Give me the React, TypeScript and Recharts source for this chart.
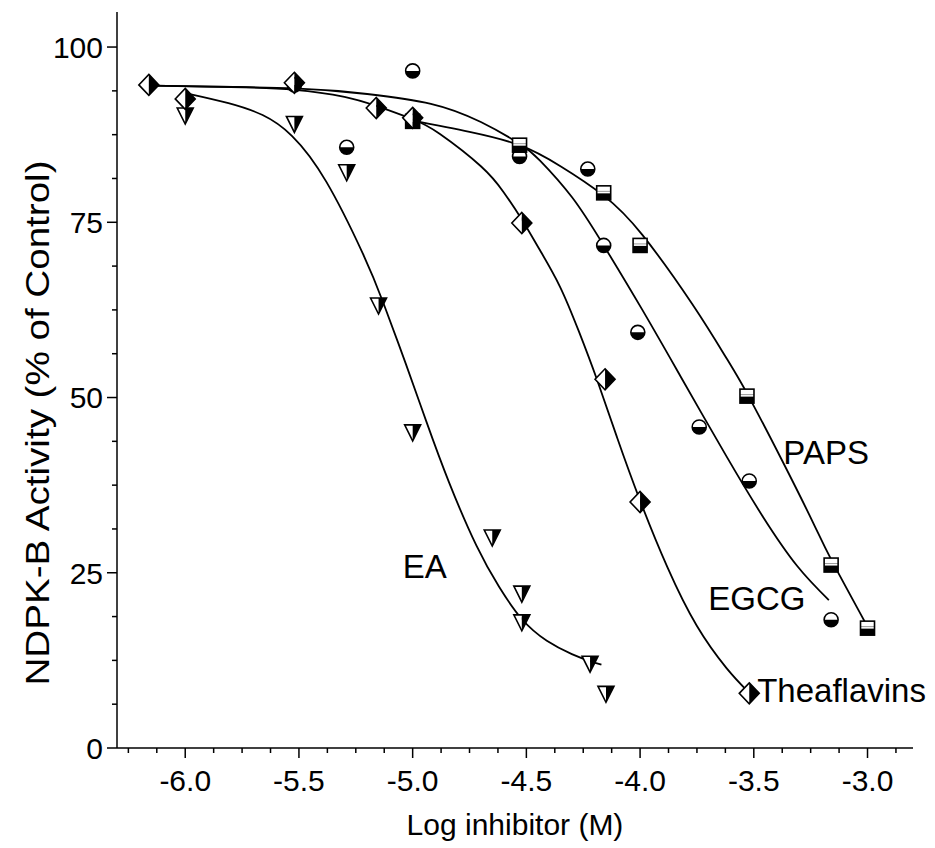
import React from 'react';
import { ComposedChart, Line, Scatter, XAxis, YAxis } from 'recharts';

const FONT = '"Liberation Sans", Arial, Helvetica, sans-serif';

// Axis ticks
const xMajorTicks = [-6.0, -5.5, -5.0, -4.5, -4.0, -3.5, -3.0];
const xMinorTicks = [-6.25, -6.125, -5.875, -5.75, -5.625, -5.375, -5.25, -5.125, -4.875, -4.75, -4.625, -4.375, -4.25, -4.125, -3.875, -3.75, -3.625, -3.375, -3.25, -3.125, -2.875];
const yMajorTicks = [0, 25, 50, 75, 100];
const yMinorTicks = [6.25, 12.5, 18.75, 31.25, 37.5, 43.75, 56.25, 62.5, 68.75, 81.25, 87.5, 93.75];

// Measured points
const theaX = [-6.16, -6.0, -5.52, -5.16, -5.0, -4.52, -4.154, -4.0, -3.52];
const theaY = [94.6, 92.6, 94.9, 91.3, 89.9, 74.9, 52.6, 35.1, 7.8];

const eaX = [-6.0, -5.52, -5.29, -5.15, -5.0, -4.65, -4.52, -4.52, -4.22, -4.15];
const eaY = [90.3, 89.1, 82.2, 63.2, 45.1, 30.1, 22.1, 18.0, 12.1, 7.8];

const egcgX = [-5.52, -5.29, -5.0, -4.53, -4.23, -4.16, -4.01, -3.74, -3.52, -3.16];
const egcgY = [94.6, 85.7, 96.6, 84.4, 82.6, 71.7, 59.3, 45.8, 38.1, 18.3];

const papsX = [-5.0, -4.53, -4.16, -4.0, -3.53, -3.16, -3.0];
const papsY = [89.4, 86.0, 79.2, 71.7, 50.2, 26.1, 17.1];

// Fitted curves
const theaCurveX = [-6.15, -5.8, -5.52, -5.3, -5.16, -5.0, -4.88, -4.7, -4.6, -4.52, -4.44, -4.352, -4.27, -4.19, -4.1, -4.0, -3.88, -3.75, -3.62, -3.53];
const theaCurveY = [94.5, 94.3, 93.9, 92.9, 91.6, 89.7, 87.6, 83.0, 79.3, 75.4, 71.0, 65.8, 59.5, 52.6, 44.2, 35.3, 25.8, 17.4, 11.4, 8.2];

const egcgCurveX = [-6.15, -5.52, -5.2, -4.92, -4.7, -4.53, -4.44, -4.3, -4.16, -3.99, -3.82, -3.62, -3.46, -3.31, -3.17];
const egcgCurveY = [94.5, 94.1, 93.3, 91.9, 89.3, 86.2, 83.8, 78.6, 71.7, 62.5, 52.9, 41.6, 33.0, 26.0, 21.1];

const papsCurveX = [-5.0, -4.75, -4.53, -4.35, -4.16, -3.99, -3.77, -3.62, -3.53, -3.38, -3.24, -3.16, -3.0];
const papsCurveY = [89.5, 87.9, 86.0, 83.0, 78.8, 73.2, 63.3, 55.6, 50.6, 41.3, 32.2, 26.9, 17.3];

const eaCurveX = [-5.98, -5.81, -5.66, -5.53, -5.38, -5.22, -5.13, -5.03, -4.94, -4.84, -4.72, -4.62, -4.52, -4.41, -4.3, -4.22, -4.17];
const eaCurveY = [93.3, 92.0, 90.3, 87.3, 80.8, 70.6, 63.6, 54.8, 46.6, 37.9, 28.9, 23.0, 18.4, 15.3, 13.4, 12.4, 11.9];

// Curve annotations
const labelNames = ['PAPS', 'EGCG', 'EA', 'Theaflavins'];
const labelX = [-3.37, -3.70, -5.044, -3.485];
const labelY = [40.5, 19.7, 24.25, 6.56];

const toPts = (xs: number[], ys: number[]) => xs.map((x, i) => ({ x, y: ys[i] }));

const xTicks = [...xMajorTicks, ...xMinorTicks].sort((a, b) => a - b);
const yTicks = [...yMajorTicks, ...yMinorTicks].sort((a, b) => a - b);
const isMajor = (v: number, majors: number[]) => majors.some((m) => Math.abs(m - v) < 1e-6);

const XTick = (props: any) => {
  const { x, y, payload } = props;
  const major = isMajor(payload.value, xMajorTicks);
  return (
    <g>
      <line x1={x} y1={y} x2={x} y2={y + (major ? 10 : 5)} stroke="#000" strokeWidth={1.5} />
      {major && (
        <text x={x} y={y + 43} textAnchor="middle" fontFamily={FONT} fontSize={30} fill="#000">
          {payload.value.toFixed(1)}
        </text>
      )}
    </g>
  );
};

const YTick = (props: any) => {
  const { x, y, payload } = props;
  const major = isMajor(payload.value, yMajorTicks);
  return (
    <g>
      <line x1={x} y1={y} x2={x - (major ? 10 : 5)} y2={y} stroke="#000" strokeWidth={1.5} />
      {major && (
        <text x={x - 14} y={y} dy="0.36em" textAnchor="end" fontFamily={FONT} fontSize={30} fill="#000">
          {payload.value}
        </text>
      )}
    </g>
  );
};

const Diamond = (p: any) => {
  const { cx, cy } = p;
  const w = 10, h = 10.5;
  return (
    <g>
      <polygon points={`${cx},${cy - h} ${cx - w},${cy} ${cx},${cy + h}`} fill="#fff" />
      <polygon points={`${cx},${cy - h} ${cx + w},${cy} ${cx},${cy + h}`} fill="#000" />
      <polygon points={`${cx},${cy - h} ${cx + w},${cy} ${cx},${cy + h} ${cx - w},${cy}`} fill="none" stroke="#000" strokeWidth={1.6} />
    </g>
  );
};

const TriangleDown = (p: any) => {
  const { cx, cy } = p;
  const w = 8, t = 7, b = 9;
  return (
    <g>
      <polygon points={`${cx - w},${cy - t} ${cx},${cy - t} ${cx},${cy + b}`} fill="#fff" />
      <polygon points={`${cx},${cy - t} ${cx + w},${cy - t} ${cx},${cy + b}`} fill="#000" />
      <polygon points={`${cx - w},${cy - t} ${cx + w},${cy - t} ${cx},${cy + b}`} fill="none" stroke="#000" strokeWidth={1.6} />
    </g>
  );
};

const HalfCircle = (p: any) => {
  const { cx, cy } = p;
  const r = 7;
  return (
    <g>
      <circle cx={cx} cy={cy} r={r} fill="#fff" />
      <path d={`M ${cx - r} ${cy} A ${r} ${r} 0 0 0 ${cx + r} ${cy} Z`} fill="#000" />
      <circle cx={cx} cy={cy} r={r} fill="none" stroke="#000" strokeWidth={1.6} />
    </g>
  );
};

const HalfSquare = (p: any) => {
  const { cx, cy } = p;
  const s = 7;
  return (
    <g>
      <rect x={cx - s} y={cy - s} width={2 * s} height={2 * s} fill="#fff" />
      <rect x={cx - s} y={cy + 0.5} width={2 * s} height={s - 0.5} fill="#000" />
      <line x1={cx - s} y1={cy - 1.5} x2={cx + s} y2={cy - 1.5} stroke="#999" strokeWidth={1} />
      <rect x={cx - s} y={cy - s} width={2 * s} height={2 * s} fill="none" stroke="#000" strokeWidth={1.6} />
    </g>
  );
};

const LabelText = (p: any) => {
  const { cx, cy, payload } = p;
  return (
    <text x={cx} y={cy} textAnchor="start" fontFamily={FONT} fontSize={33} fill="#000">
      {payload.name}
    </text>
  );
};

const labelData = labelNames.map((name, i) => ({ name, x: labelX[i], y: labelY[i] }));

const XTitle = (props: any) => {
  const vb = props.viewBox;
  return (
    <text x={vb.x + vb.width / 2} y={vb.y + 87} textAnchor="middle" fontFamily={FONT} fontSize={30} fill="#000">
      Log inhibitor (M)
    </text>
  );
};

const YTitle = (props: any) => {
  const vb = props.viewBox;
  const cx = vb.x + 29;
  const cy = vb.y + vb.height / 2 + 43;
  return (
    <text
      x={cx}
      y={cy}
      dy="0.36em"
      textAnchor="middle"
      transform={`rotate(-90 ${cx} ${cy})`}
      fontFamily={FONT}
      fontSize={33}
      textLength={525}
      lengthAdjust="spacingAndGlyphs"
      fill="#000"
    >
      NDPK-B Activity (% of Control)
    </text>
  );
};

const lineProps = {
  dataKey: 'y',
  type: 'natural' as const,
  stroke: '#000',
  strokeWidth: 1.8,
  dot: false,
  activeDot: false,
  isAnimationActive: false,
};

export default function App() {
  return (
    <div style={{ width: 927, height: 840 }}>
      <ComposedChart width={927} height={840} margin={{ top: 4, right: 22, bottom: 0, left: 0 }}>
        <XAxis
          type="number"
          dataKey="x"
          domain={[-6.3, -2.8]}
          ticks={xTicks}
          interval={0}
          tickSize={0}
          tickMargin={0}
          tickLine={false}
          tick={<XTick />}
          axisLine={{ stroke: '#000', strokeWidth: 1.5 }}
          height={100}
          label={<XTitle />}
        />
        <YAxis
          type="number"
          dataKey="y"
          domain={[0, 105]}
          ticks={yTicks}
          interval={0}
          tickSize={0}
          tickMargin={0}
          tickLine={false}
          tick={<YTick />}
          axisLine={{ stroke: '#000', strokeWidth: 1.5 }}
          width={109}
          label={<YTitle />}
        />
        <Line data={toPts(theaCurveX, theaCurveY)} {...lineProps} />
        <Line data={toPts(egcgCurveX, egcgCurveY)} {...lineProps} />
        <Line data={toPts(papsCurveX, papsCurveY)} {...lineProps} />
        <Line data={toPts(eaCurveX, eaCurveY)} {...lineProps} />
        <Scatter data={toPts(egcgX, egcgY)} shape={<HalfCircle />} isAnimationActive={false} />
        <Scatter data={toPts(papsX, papsY)} shape={<HalfSquare />} isAnimationActive={false} />
        <Scatter data={toPts(eaX, eaY)} shape={<TriangleDown />} isAnimationActive={false} />
        <Scatter data={toPts(theaX, theaY)} shape={<Diamond />} isAnimationActive={false} />
        <Scatter data={labelData} shape={<LabelText />} isAnimationActive={false} />
      </ComposedChart>
    </div>
  );
}
